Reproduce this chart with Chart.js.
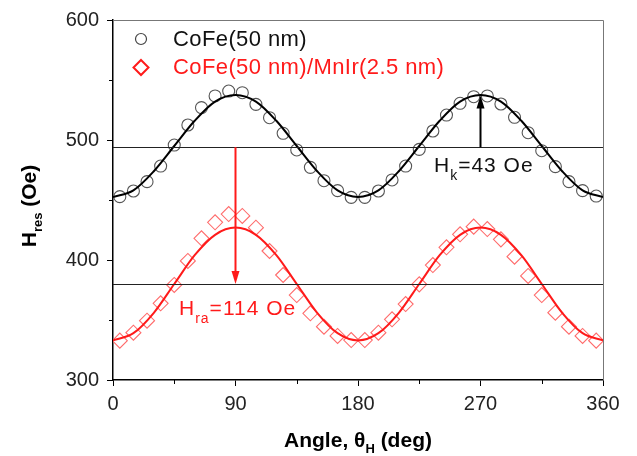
<!DOCTYPE html>
<html>
<head>
<meta charset="utf-8">
<script src="https://cdn.jsdelivr.net/npm/chart.js@4/dist/chart.umd.min.js"></script>
<style>
  html, body { margin: 0; padding: 0; background: #fff; }
  #wrap { width: 637px; height: 456px; }
</style>
</head>
<body>
<div id="wrap"><canvas id="fmrChart" width="637" height="456"></canvas></div>
<script>
// measured points, every 10 deg
const angles = [5, 15, 25, 35, 45, 55, 65, 75, 85, 95, 105, 115, 125, 135, 145, 155, 165, 175,
                185, 195, 205, 215, 225, 235, 245, 255, 265, 275, 285, 295, 305, 315, 325, 335, 345, 355];
const cofe = [452.8, 457.5, 465.3, 478.3, 495.8, 512.5, 527, 536.7, 540.8, 539.4, 529.7, 518.6, 505.6, 491.7, 477.2, 466.1, 457.8, 452.2,
              452.2, 457.5, 466.7, 478.3, 492.2, 507.5, 520.8, 530.6, 536.1, 536.7, 530, 518.9, 506.1, 491.1, 477.8, 465.3, 457.8, 453.3];
const mnir = [332.8, 339.4, 349.4, 363.9, 379.2, 399.2, 418.1, 431.4, 438.3, 436.7, 426.9, 407.5, 387.5, 370.8, 355.6, 344.4, 336.7, 333.3,
              333.3, 339.4, 350.6, 363.3, 379.7, 395.8, 410.6, 421.4, 427.8, 425.8, 417.2, 402.8, 386.7, 370.8, 356.1, 344.4, 336.7, 332.8];

// fitted curves, read every 15 deg
const fitAngles = [0, 15, 30, 45, 60, 75, 90, 105, 120, 135, 150, 165, 180, 195, 210, 225, 240, 255, 270, 285, 300, 315, 330, 345, 360];
const cofeFit = [452.5, 458, 474, 495, 516, 532, 537.5, 532, 516, 495, 474, 458, 452.5, 458, 474, 495, 516, 532, 537.5, 532, 516, 495, 474, 458, 452.5];
const mnirFit = [333, 339, 356, 380, 404, 421, 427, 421, 404, 380, 356, 339, 333, 339, 356, 380, 404, 421, 427, 421, 404, 380, 356, 339, 333];

const seriesNames = ['CoFe(50 nm)', 'CoFe(50 nm)/MnIr(2.5 nm)'];
const xTicks = [0, 90, 180, 270, 360];
const xMinor = [45, 135, 225, 315];
const yMinor = [350, 450, 550];
const refLines = [494, 380];           // H levels of the two horizontal lines
const hkArrow = [270, 494, 537];       // angle, from, to
const hraArrow = [90, 494, 380];

const toXY = (xs, ys) => xs.map((x, i) => ({ x: x, y: ys[i] }));

const FONT = '"Liberation Sans", Arial, sans-serif';

function drawRich(ctx, parts, x, y, align) {
    let total = 0;
    parts.forEach(p => { ctx.font = p.font; total += ctx.measureText(p.t).width; });
    let cx = align === 'center' ? x - total / 2 : x;
    parts.forEach(p => {
        ctx.font = p.font;
        ctx.fillText(p.t, cx, y + (p.dy || 0));
        cx += ctx.measureText(p.t).width;
    });
}

function arrow(ctx, x, y0, y1, color) {
    const dir = y1 < y0 ? 1 : -1;
    ctx.strokeStyle = color;
    ctx.fillStyle = color;
    ctx.lineWidth = 2;
    ctx.beginPath();
    ctx.moveTo(x, y0);
    ctx.lineTo(x, y1 + dir * 10);
    ctx.stroke();
    ctx.beginPath();
    ctx.moveTo(x, y1);
    ctx.lineTo(x - 4, y1 + dir * 13);
    ctx.lineTo(x + 4, y1 + dir * 13);
    ctx.closePath();
    ctx.fill();
}

const extras = {
    id: 'extras',
    afterDatasetsDraw(chart) {
        const { ctx, chartArea: a, scales: { x, y } } = chart;
        ctx.save();

        // frame top / right
        ctx.strokeStyle = '#777';
        ctx.lineWidth = 1;
        ctx.beginPath();
        ctx.moveTo(a.left, a.top + 0.5);
        ctx.lineTo(a.right + 0.5, a.top + 0.5);
        ctx.lineTo(a.right + 0.5, a.bottom);
        ctx.stroke();

        // minor ticks
        ctx.strokeStyle = '#000';
        ctx.beginPath();
        xMinor.forEach(v => { const px = Math.round(x.getPixelForValue(v)) + 0.5; ctx.moveTo(px, a.bottom); ctx.lineTo(px, a.bottom + 4); });
        yMinor.forEach(v => { const py = Math.round(y.getPixelForValue(v)) + 0.5; ctx.moveTo(a.left, py); ctx.lineTo(a.left - 4, py); });
        ctx.stroke();

        // reference lines
        ctx.strokeStyle = '#222';
        ctx.lineWidth = 1;
        refLines.forEach(v => {
            const py = Math.round(y.getPixelForValue(v)) + 0.5;
            ctx.beginPath();
            ctx.moveTo(a.left, py);
            ctx.lineTo(a.right, py);
            ctx.stroke();
        });

        arrow(ctx, x.getPixelForValue(hkArrow[0]), y.getPixelForValue(hkArrow[1]), y.getPixelForValue(hkArrow[2]), '#000');
        arrow(ctx, x.getPixelForValue(hraArrow[0]), y.getPixelForValue(hraArrow[1]), y.getPixelForValue(hraArrow[2]), '#ff1a1a');

        // annotations
        ctx.textBaseline = 'alphabetic';
        ctx.textAlign = 'left';
        ctx.letterSpacing = '1px';
        ctx.fillStyle = '#111';
        drawRich(ctx, [
            { t: 'H', font: '21px ' + FONT },
            { t: 'k', font: '14px ' + FONT, dy: 8 },
            { t: '=43 Oe', font: '21px ' + FONT }
        ], 434, 172);
        ctx.fillStyle = '#ff1a1a';
        drawRich(ctx, [
            { t: 'H', font: '21px ' + FONT },
            { t: 'ra', font: '14px ' + FONT, dy: 8 },
            { t: '=114 Oe', font: '21px ' + FONT }
        ], 179, 315);

        // legend
        const lx = a.left + 28;
        ctx.lineWidth = 1.2;
        ctx.strokeStyle = '#444';
        ctx.beginPath();
        ctx.arc(lx, a.top + 19, 5.5, 0, Math.PI * 2);
        ctx.stroke();
        ctx.strokeStyle = '#ff1a1a';
        ctx.lineWidth = 2;
        ctx.beginPath();
        ctx.moveTo(lx, a.top + 40); ctx.lineTo(lx + 7.5, a.top + 47.5);
        ctx.lineTo(lx, a.top + 55); ctx.lineTo(lx - 7.5, a.top + 47.5);
        ctx.closePath();
        ctx.stroke();
        ctx.textBaseline = 'middle';
        ctx.letterSpacing = '0.4px';
        ctx.font = '22px ' + FONT;
        ctx.fillStyle = '#111';
        ctx.fillText(seriesNames[0], lx + 32, a.top + 20);
        ctx.fillStyle = '#ff1a1a';
        ctx.fillText(seriesNames[1], lx + 32, a.top + 48);

        // axis titles
        ctx.letterSpacing = '0px';
        ctx.fillStyle = '#000';
        ctx.textBaseline = 'alphabetic';
        drawRich(ctx, [
            { t: 'Angle, \u03B8', font: 'bold 21px ' + FONT },
            { t: 'H', font: 'bold 13px ' + FONT, dy: 6 },
            { t: ' (deg)', font: 'bold 21px ' + FONT }
        ], (a.left + a.right) / 2, 447, 'center');

        ctx.translate(36, (a.top + a.bottom) / 2 + 6);
        ctx.rotate(-Math.PI / 2);
        drawRich(ctx, [
            { t: 'H', font: 'bold 21px ' + FONT },
            { t: 'res', font: 'bold 13px ' + FONT, dy: 6 },
            { t: ' (Oe)', font: 'bold 21px ' + FONT }
        ], 0, 0, 'center');

        ctx.restore();
    }
};

const tickFont = { family: FONT, size: 20 };

new Chart(document.getElementById('fmrChart'), {
    type: 'scatter',
    data: {
        datasets: [
            { label: seriesNames[0] + ' fit', data: toXY(fitAngles, cofeFit), showLine: true, pointRadius: 0,
              borderColor: '#000', borderWidth: 2, cubicInterpolationMode: 'monotone' },
            { label: seriesNames[0], data: toXY(angles, cofe), pointStyle: 'circle', pointRadius: 6,
              borderColor: '#555', borderWidth: 1.1, backgroundColor: 'rgba(0,0,0,0)' },
            { label: seriesNames[1] + ' fit', data: toXY(fitAngles, mnirFit), showLine: true, pointRadius: 0,
              borderColor: '#ff1a1a', borderWidth: 2, cubicInterpolationMode: 'monotone' },
            { label: seriesNames[1], data: toXY(angles, mnir), pointStyle: 'rectRot', pointRadius: 7.5,
              borderColor: '#ff6b6b', borderWidth: 1.1, backgroundColor: 'rgba(0,0,0,0)' }
        ]
    },
    options: {
        responsive: false,
        animation: false,
        devicePixelRatio: 1,
        layout: { padding: { top: 20, right: 34, left: 0, bottom: 0 } },
        plugins: { legend: { display: false }, tooltip: { enabled: false } },
        scales: {
            x: {
                type: 'linear', min: 0, max: 360,
                afterBuildTicks: s => { s.ticks = xTicks.map(v => ({ value: v })); },
                afterFit: s => { s.height = 76; },
                ticks: { font: tickFont, color: '#222', padding: 6, maxRotation: 0 },
                grid: { drawOnChartArea: false, tickLength: 6, color: '#000', lineWidth: 1 },
                border: { color: '#000', width: 1.5 }
            },
            y: {
                min: 300, max: 600,
                ticks: { stepSize: 100, font: tickFont, color: '#222', padding: 8 },
                afterFit: s => { s.width = 113; },
                grid: { drawOnChartArea: false, tickLength: 6, color: '#000', lineWidth: 1 },
                border: { color: '#000', width: 1.5 }
            }
        }
    },
    plugins: [extras]
});
</script>
</body>
</html>
